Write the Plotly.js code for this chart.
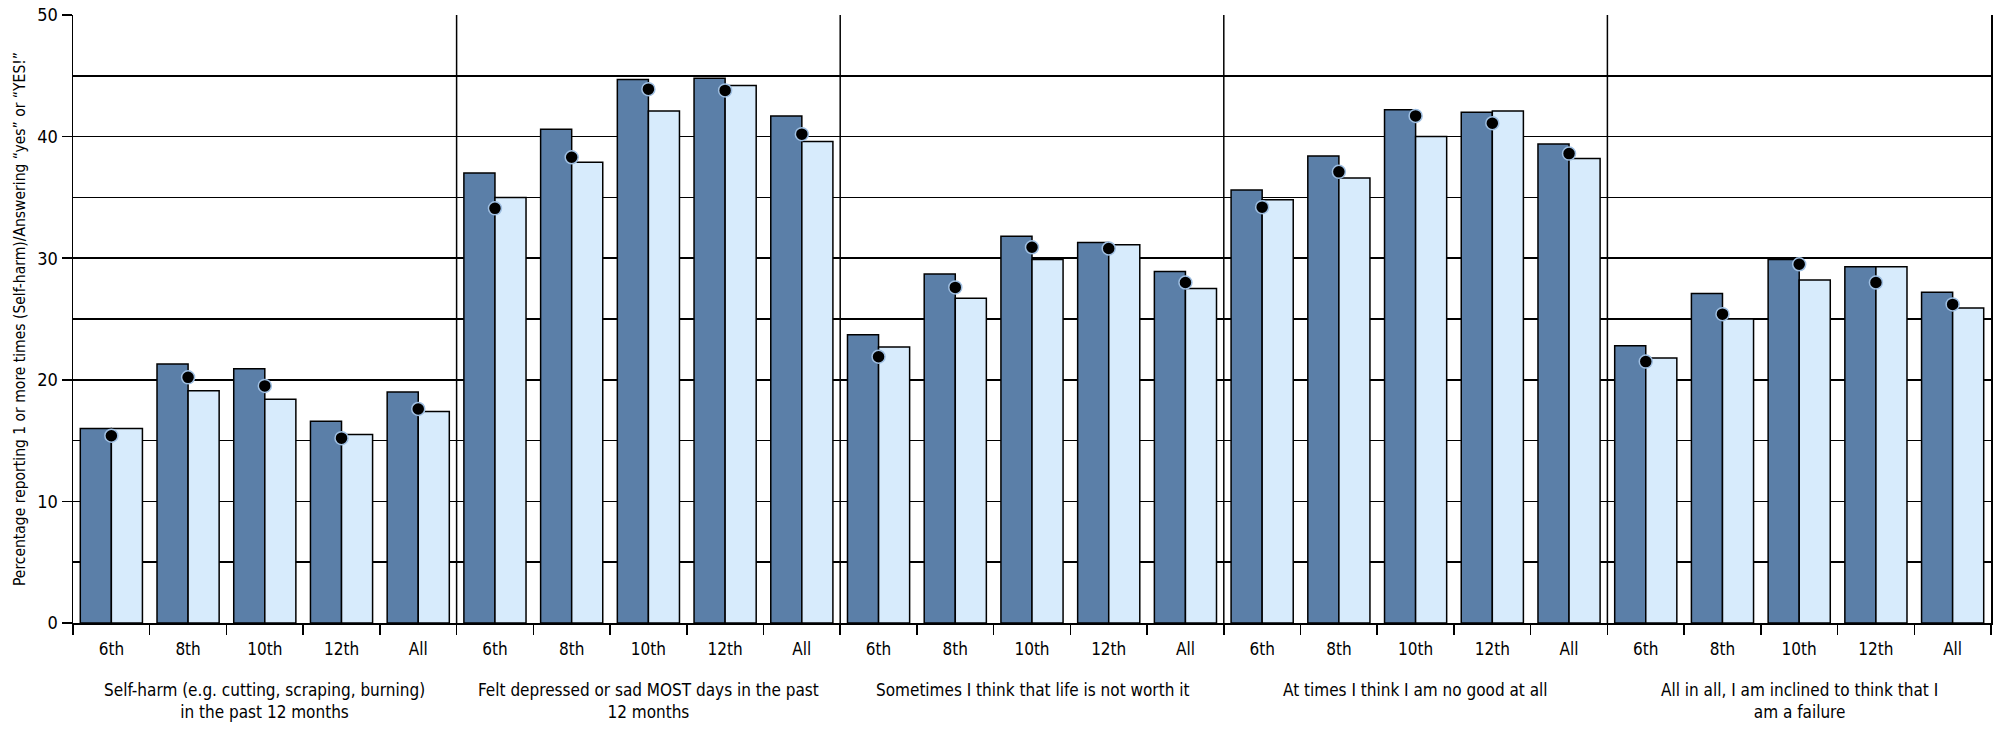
<!DOCTYPE html>
<html>
<head>
<meta charset="utf-8">
<script src="https://cdn.plot.ly/plotly-3.0.1.min.js"></script>
<style>html,body{margin:0;padding:0;background:#fff;}#chart{width:1999px;height:731px;}</style>
</head>
<body>
<div id="chart"></div>
<script>
const groups = [
  "Self-harm (e.g. cutting, scraping, burning)<br>in the past 12 months",
  "Felt depressed or sad MOST days in the past<br>12 months",
  "Sometimes I think that life is not worth it",
  "At times I think I am no good at all",
  "All in all, I am inclined to think that I<br>am a failure"
];
const grades = ["6th", "8th", "10th", "12th", "All"];

// series values per group (6th, 8th, 10th, 12th, All)
const darkSelfHarm   = [16.0, 21.3, 20.9, 16.6, 19.0];
const darkDepressed  = [37.0, 40.6, 44.7, 44.8, 41.7];
const darkNotWorth   = [23.7, 28.7, 31.8, 31.3, 28.9];
const darkNoGood     = [35.6, 38.4, 42.2, 42.0, 39.4];
const darkFailure    = [22.8, 27.1, 29.9, 29.3, 27.2];

const lightSelfHarm  = [16.0, 19.1, 18.4, 15.5, 17.4];
const lightDepressed = [35.0, 37.9, 42.1, 44.2, 39.6];
const lightNotWorth  = [22.7, 26.7, 29.9, 31.1, 27.5];
const lightNoGood    = [34.8, 36.6, 40.0, 42.1, 38.2];
const lightFailure   = [21.8, 25.0, 28.2, 29.3, 25.9];

const dotSelfHarm    = [15.4, 20.2, 19.5, 15.2, 17.6];
const dotDepressed   = [34.1, 38.3, 43.9, 43.8, 40.2];
const dotNotWorth    = [21.9, 27.6, 30.9, 30.8, 28.0];
const dotNoGood      = [34.2, 37.1, 41.7, 41.1, 38.6];
const dotFailure     = [21.5, 25.4, 29.5, 28.0, 26.2];

const yTickVals = [0, 10, 20, 30, 40, 50];

const darkAll  = [darkSelfHarm, darkDepressed, darkNotWorth, darkNoGood, darkFailure];
const lightAll = [lightSelfHarm, lightDepressed, lightNotWorth, lightNoGood, lightFailure];
const dotAll   = [dotSelfHarm, dotDepressed, dotNotWorth, dotNoGood, dotFailure];

const nG = grades.length;
const xIdx = [], xText = [];
groups.forEach((g, gi) => grades.forEach((gr, ri) => { xIdx.push(gi * nG + ri); xText.push(gr); }));
const boundaries = [];
for (let i = 0; i <= xIdx.length; i++) boundaries.push(i - 0.5);
const flat = arr => arr.reduce((a, b) => a.concat(b), []);

const FONT = "DejaVu Sans Condensed, Liberation Sans Narrow, sans-serif";

const traces = [
  {type: "bar", x: xIdx, y: flat(darkAll),
   marker: {color: "#5b7fa8", line: {color: "#000", width: 1.5}}, hoverinfo: "y"},
  {type: "bar", x: xIdx, y: flat(lightAll),
   marker: {color: "#d7ebfc", line: {color: "#000", width: 1.5}}, hoverinfo: "y"},
  {type: "scatter", mode: "markers", x: xIdx, y: flat(dotAll),
   marker: {color: "#000", size: 13, line: {color: "#9fbfe2", width: 1.5}}, hoverinfo: "y"}
];

const shapes = [];
for (let g = 1; g < groups.length; g++) {
  shapes.push({type: "line", xref: "x", yref: "paper", x0: g * nG - 0.5, x1: g * nG - 0.5,
    y0: 0, y1: 1, line: {color: "#000", width: 1.5}, layer: "below"});
}
const annotations = groups.map((g, gi) => ({
  text: g, xref: "x", yref: "paper", x: gi * nG + (nG - 1) / 2, y: 0,
  yanchor: "top", xanchor: "center", yshift: -55, showarrow: false, align: "center",
  font: {family: FONT, size: 17, color: "#000"}
}));

const layout = {
  width: 1999, height: 731,
  margin: {l: 73, r: 8, t: 15, b: 108},
  paper_bgcolor: "#fff", plot_bgcolor: "#fff",
  showlegend: false,
  barmode: "group", bargap: 0.19, bargroupgap: 0,
  font: {family: FONT, size: 17, color: "#000"},
  xaxis: {
    range: [boundaries[0], boundaries[boundaries.length - 1]],
    tickmode: "array", tickvals: xIdx, ticktext: xText,
    ticks: "outside", ticklen: 10, tickcolor: "rgba(0,0,0,0)",
    minor: {tickmode: "array", tickvals: boundaries, ticks: "outside", ticklen: 10,
            tickwidth: 1.5, tickcolor: "#000", showgrid: false},
    showline: true, linecolor: "#000", linewidth: 1.5,
    showgrid: false, zeroline: false,
    tickfont: {family: FONT, size: 17, color: "#000"}
  },
  yaxis: {
    range: [0, 50],
    tickmode: "array", tickvals: yTickVals,
    ticks: "outside", ticklen: 10, tickwidth: 1.5, tickcolor: "#000",
    showline: true, linecolor: "#000", linewidth: 1.5, mirror: true,
    showgrid: true, gridcolor: "#000", gridwidth: 1.5,
    zeroline: false,
    minor: {dtick: 5, tick0: 0, showgrid: true, gridcolor: "#000", gridwidth: 1.5, ticks: ""},
    tickfont: {family: FONT, size: 18, color: "#000"},
    title: {text: "Percentage reporting 1 or more times (Self-harm)/Answering “yes” or “YES!”",
            font: {family: FONT, size: 15.5, color: "#000"}, standoff: 8}
  },
  shapes: shapes,
  annotations: annotations
};

Plotly.newPlot("chart", traces, layout, {displayModeBar: false, staticPlot: true});
</script>
</body>
</html>
